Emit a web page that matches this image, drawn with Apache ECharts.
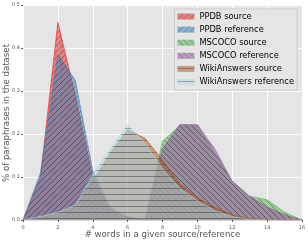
<!DOCTYPE html>
<html><head><meta charset="utf-8">
<script src="https://cdn.jsdelivr.net/npm/echarts@6/dist/echarts.min.js"></script>
<style>html,body{margin:0;padding:0;background:#fff}#c{width:308px;height:242px}</style>
</head><body><div id="c"></div>
<script>
const xs = [0,1,2,3,4,5,6,7,8,9,10,11,12,13,14,15,16];
const xTicks = [0,2,4,6,8,10,12,14,16];
const yTicks = [0.0,0.1,0.2,0.3,0.4,0.5];
const ppdbSource = [0,0.10,0.46,0.29,0.10,0.025,0.005,0,0,0,0,0,0,0,0,0,0];
const ppdbReference = [0,0.11,0.385,0.325,0.115,0.03,0.008,0,0,0,0,0,0,0,0,0,0];
const mscocoSource = [0,0,0,0,0,0,0,0,0.183,0.22,0.219,0.155,0.09,0.055,0.047,0.018,0];
const mscocoReference = [0,0,0,0,0,0,0,0,0.165,0.222,0.222,0.165,0.09,0.055,0.03,0.012,0];
const wikiSource = [0,0.005,0.015,0.03,0.09,0.155,0.21,0.19,0.14,0.085,0.052,0.03,0.012,0.004,0.001,0,0];
const wikiReference = [0,0.008,0.018,0.035,0.105,0.165,0.222,0.178,0.12,0.075,0.045,0.022,0.008,0.002,0,0,0];
const names = ['PPDB source','PPDB reference','MSCOCO source','MSCOCO reference','WikiAnswers source','WikiAnswers reference'];
const xTitle = '# words in a given source/reference';
const yTitle = '% of paraphrases in the dataset';

const baseColors = ['#E41A1C','#377EB8','#4DAF4A','#984EA3','#A65628','#ADD8E6'];
const hatches = ['/','/','\\','\\','-','-'];

function hexToRgba(h,a){const r=parseInt(h.slice(1,3),16),g=parseInt(h.slice(3,5),16),b=parseInt(h.slice(5,7),16);return `rgba(${r},${g},${b},${a})`;}
function makePattern(color, hatch){
  const s = 6;
  const c = document.createElement('canvas'); c.width=s; c.height=s;
  const ctx = c.getContext('2d');
  ctx.fillStyle = hexToRgba(color,0.5); ctx.fillRect(0,0,s,s);
  ctx.strokeStyle = 'rgba(40,40,40,0.45)'; ctx.lineWidth = 0.8;
  ctx.beginPath();
  if (hatch==='/') { ctx.moveTo(0,s); ctx.lineTo(s,0); ctx.moveTo(-1,1); ctx.lineTo(1,-1); ctx.moveTo(s-1,s+1); ctx.lineTo(s+1,s-1); }
  else if (hatch==='\\') { ctx.moveTo(0,0); ctx.lineTo(s,s); ctx.moveTo(s-1,-1); ctx.lineTo(s+1,1); ctx.moveTo(-1,s-1); ctx.lineTo(1,s+1); }
  else { ctx.moveTo(0,2.5); ctx.lineTo(s,2.5); }
  ctx.stroke();
  return {image:c, repeat:'repeat'};
}
const datasets = [ppdbSource, ppdbReference, mscocoSource, mscocoReference, wikiSource, wikiReference];
const series = datasets.map((vals,i)=>({
  name: names[i], type:'line', symbol:'none', smooth:false,
  data: xs.map((x,j)=>[x, vals[j]]),
  lineStyle:{color:hexToRgba(baseColors[i],0.55), width:1},
  itemStyle:{color:makePattern(baseColors[i],hatches[i]), borderColor:hexToRgba(baseColors[i],0.55)},
  areaStyle:{color:makePattern(baseColors[i],hatches[i]), opacity:1},
  z: 2+i
}));
const chart = echarts.init(document.getElementById('c'), null, {renderer:'canvas'});
chart.setOption({
  animation:false,
  backgroundColor:'#ffffff',
  grid:{left:23, right:6, top:5, bottom:22, backgroundColor:'#E5E5E5', show:true, borderWidth:0,
        containLabel:false, outerBoundsMode:'none'},
  legend:{
    show:true, orient:'vertical', right:11, top:9, itemWidth:17, itemHeight:6, itemGap:5.1,
    padding:[3.5,3,4,3], backgroundColor:'#E5E5E5', borderColor:'#CCCCCC', borderWidth:1,
    textStyle:{fontFamily:'DejaVu Sans', fontSize:8.3, color:'#000', lineHeight:6},
    data: names.map(n=>({name:n, icon:'rect'}))
  },
  graphic:[
    {type:'text', x:162.5, y:234.5, style:{text:xTitle, fontFamily:'DejaVu Sans', fontSize:8.6, fill:'#555', align:'center', verticalAlign:'middle'}},
    {type:'text', x:6.5, y:113, rotation:Math.PI/2, style:{text:yTitle, fontFamily:'DejaVu Sans', fontSize:8.6, fill:'#555', align:'center', verticalAlign:'middle'}}
  ],
  xAxis:{type:'value', min:0, max:16, interval:2,
    axisLine:{show:false}, axisTick:{show:true, length:2, lineStyle:{color:'#555'}},
    axisLabel:{fontSize:5, color:'#555', margin:5, fontFamily:'DejaVu Sans'},
    splitLine:{show:true, lineStyle:{color:'#fff', width:1}}},
  yAxis:{type:'value', min:0, max:0.5, interval:0.1,
    axisLine:{show:false}, axisTick:{show:true, length:2, lineStyle:{color:'#555'}},
    axisLabel:{fontSize:5, color:'#555', margin:3, fontFamily:'DejaVu Sans', formatter:v=>v.toFixed(1)},
    splitLine:{show:true, lineStyle:{color:'#fff', width:1}}},
  series: series
});
</script></body></html>
